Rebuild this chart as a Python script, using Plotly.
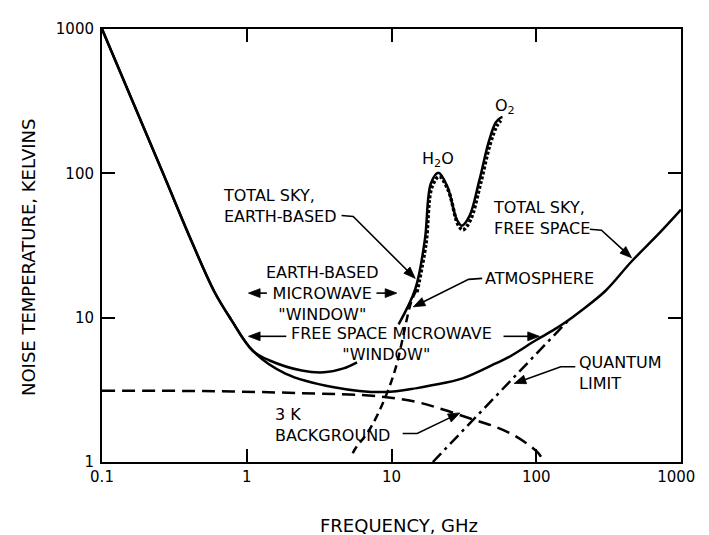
import math
import plotly.graph_objects as go

# ---------------- data ----------------
# Total sky, free space (solid)
free_f = [0.1, 0.264, 0.42, 0.6, 0.78, 1.1, 1.85, 4.0, 9.0, 15.0, 19.0, 31.0, 52.0, 64.0, 100.0, 139.0, 162.0, 200.0, 300.0, 455.0, 700.0, 1000.0]
free_t = [1000, 100, 33, 15, 9.7, 5.9, 4.1, 3.3, 3.05, 3.25, 3.4, 3.8, 4.8, 5.3, 7.0, 8.5, 9.4, 11.0, 15.3, 24.5, 38, 56]

# Total sky, earth-based (solid; gap where the labels cover it)
earth_f = [0.1, 0.264, 0.42, 0.6, 0.78, 1.1, 1.44, 2.4, 3.42, 4.66, 5.78, None,
           11.2, 14.6, 17.0, 18.7, 21.1, 24.3, 28.3, 30.6, 34.6, 40.4, 47.1, 52.5, 56.7, 58.5]
earth_t = [1000, 100, 33, 15, 9.7, 5.9, 5.05, 4.3, 4.18, 4.45, 4.9, None,
           9.0, 15.8, 34.7, 85, 101, 81, 47.6, 43.4, 50.7, 89, 167, 225, 243, 246]

# Atmosphere, lower part (dashed)
atm_low_f = [5.4, 5.6, 7.06, 8.9, 10.7, 13.7, 15.0]
atm_low_t = [1.15, 1.23, 1.68, 2.69, 4.5, 12.9, 15.8]
# Atmosphere, upper part (dotted, alongside the earth-based curve)
atm_up_f = [15.0, 17.3, 19.0, 21.4, 24.7, 28.7, 31.1, 35.1, 41.0, 47.8, 53.3, 57.0]
atm_up_t = [15.0, 32.5, 80, 95, 76, 44.5, 40.5, 47.5, 83, 157, 212, 232]

# 3 K background (long dashes)
bg_f = [0.1, 0.5, 2.4, 8.2, 15.0, 23.0, 35.0, 50.0, 71.0, 102.0, 113.0]
bg_t = [3.12, 3.1, 3.0, 2.85, 2.6, 2.3, 2.0, 1.78, 1.52, 1.17, 1.0]

# Quantum limit (dash-dot)
q_f = [19.3, 172.0]
q_t = [1.0, 9.9]

x_ticks = [0.1, 1, 10, 100, 1000]
x_ticktext = ["0.1", "1", "10", "100", "1000&nbsp;&nbsp;"]
y_ticks = [1, 10, 100, 1000]
y_ticktext = ["1", "10", "100", "1000"]

# ---------------- figure ----------------
W, H = 709, 535
L, R, T, B = 94, 18, 13, 81
PW, PH = W - L - R, H - T - B
FONT = "DejaVu Sans"


def px(x):
    return (x - L) / PW


def py(y):
    return (H - B - y) / PH


fig = go.Figure()
fig.add_trace(go.Scatter(x=bg_f, y=bg_t, mode="lines",
                         line=dict(color="black", width=2.5, dash="13px,7px"), line_shape="spline"))
fig.add_trace(go.Scatter(x=q_f, y=q_t, mode="lines",
                         line=dict(color="black", width=2.5, dash="12px,5px,3px,5px")))
fig.add_trace(go.Scatter(x=atm_low_f, y=atm_low_t, mode="lines",
                         line=dict(color="black", width=2.5, dash="8px,5px"), line_shape="spline"))
fig.add_trace(go.Scatter(x=atm_up_f, y=atm_up_t, mode="lines",
                         line=dict(color="black", width=3.5, dash="3px,2px"), line_shape="spline"))
fig.add_trace(go.Scatter(x=free_f, y=free_t, mode="lines",
                         line=dict(color="black", width=2.5), line_shape="spline"))
fig.add_trace(go.Scatter(x=earth_f, y=earth_t, mode="lines",
                         line=dict(color="black", width=2.5), line_shape="spline"))

ann = []
shapes = []


def text(s, x, y, xanchor="left", size=16, align="left"):
    ann.append(dict(text=s, x=px(x), y=py(y), xref="paper", yref="paper",
                    xanchor=xanchor, yanchor="middle", align=align, showarrow=False,
                    font=dict(family=FONT, size=size, color="black")))


def pth(points, close=False):
    s = "M " + " L ".join(f"{px(a):.5f},{py(b):.5f}" for a, b in points)
    return s + (" Z" if close else "")


def leader(points, tip, head_len=12, half_w=4.5):
    """Polyline through points ending in a filled arrowhead at tip."""
    lx, ly = points[-1]
    dx, dy = tip[0] - lx, tip[1] - ly
    n = math.hypot(dx, dy)
    ux, uy = dx / n, dy / n
    bx, by = tip[0] - ux * head_len, tip[1] - uy * head_len
    shapes.append(dict(type="path", xref="paper", yref="paper",
                       path=pth(points + [(bx + ux * 2, by + uy * 2)]),
                       line=dict(color="black", width=1.6)))
    tri = [tip, (bx - uy * half_w, by + ux * half_w), (bx + uy * half_w, by - ux * half_w)]
    shapes.append(dict(type="path", xref="paper", yref="paper", path=pth(tri, True),
                       fillcolor="black", line=dict(color="black", width=0.8)))


# labels
text("TOTAL SKY,<br>EARTH-BASED", 217, 193.5)
text("EARTH-BASED<br>MICROWAVE<br>\"WINDOW\"", 321, 282.5, "center", align="center")
text("FREE SPACE MICROWAVE<br>\"WINDOW\"&nbsp;&nbsp;", 393, 334, "center", align="center")
text("ATMOSPHERE", 487, 267)
text("TOTAL SKY,<br>FREE SPACE", 495, 206)
text("QUANTUM<br>LIMIT", 584, 363.5)
text("3 K<br>BACKGROUND", 270, 416)
text("H<sub>2</sub>O", 440, 146, "center")
text("O<sub>2</sub>", 510, 92, "center")

# axis titles
ann.append(dict(text="FREQUENCY, GHz", x=px(400), y=py(519), xref="paper", yref="paper",
                xanchor="center", yanchor="middle", showarrow=False,
                font=dict(family=FONT, size=18, color="black")))
ann.append(dict(text="NOISE TEMPERATURE, KELVINS", x=px(19), y=py(245), xref="paper", yref="paper",
                xanchor="center", yanchor="middle", showarrow=False, textangle=-90,
                font=dict(family=FONT, size=18, color="black")))

# window arrows
leader([(264, 282)], (245, 282))
leader([(377, 282)], (398, 282))
leader([(284, 326)], (245, 326))
leader([(508, 326)], (545, 326))

# leaders from labels
leader([(341, 203), (353, 204)], (417, 267))
leader([(486, 267), (472, 268)], (415, 296))
leader([(597, 217), (609, 218)], (640, 246))
leader([(582, 357), (567, 357)], (519, 374))
leader([(404, 425), (419, 425)], (463, 404))

axis_common = dict(type="log", showline=True, linewidth=2, linecolor="black", mirror="ticks",
                   ticks="inside", ticklen=13, tickwidth=2, tickcolor="black",
                   showgrid=False, zeroline=False, ticklabeloverflow="allow",
                   tickfont=dict(family=FONT, size=15, color="black"))

fig.update_layout(
    width=W, height=H,
    margin=dict(l=L, r=R, t=T, b=B),
    paper_bgcolor="white", plot_bgcolor="white",
    showlegend=False,
    xaxis=dict(range=[-1, 3], tickvals=x_ticks, ticktext=x_ticktext, **axis_common),
    yaxis=dict(range=[0, 3], tickvals=y_ticks, ticktext=y_ticktext,
               ticklabelstandoff=3, **axis_common),
    annotations=ann, shapes=shapes,
)

fig.write_html("out.html")
